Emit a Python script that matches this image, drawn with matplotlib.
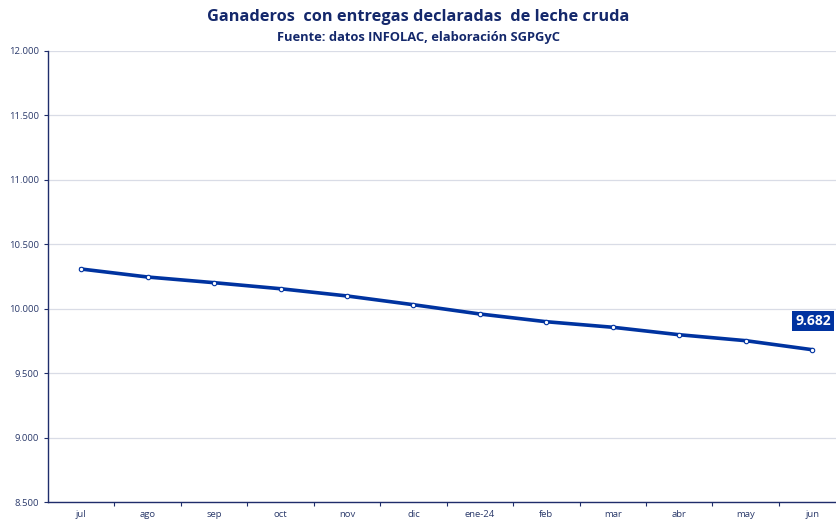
import matplotlib
matplotlib.use("Agg")
import matplotlib.pyplot as plt
from matplotlib.ticker import FuncFormatter

months = ["jul", "ago", "sep", "oct", "nov", "dic", "ene-24", "feb", "mar", "abr", "may", "jun"]
ganaderos = [10308, 10246, 10202, 10155, 10099, 10031, 9959, 9899, 9856, 9798, 9752, 9682]
y_ticks = [8500, 9000, 9500, 10000, 10500, 11000, 11500, 12000]

W, H = 837, 524
fig = plt.figure(figsize=(W / 100, H / 100), dpi=100)
plt.rcParams['font.family'] = ['Open Sans', 'DejaVu Sans']

left = 48 / W
bottom = 1 - 502 / H
top = 1 - 51 / H
ax = fig.add_axes([left, bottom, 1.01 - left, top - bottom])

navy = "#1f2d6b"
line_col = "#0033a0"

x = list(range(len(months)))
ax.plot(x, ganaderos, color=line_col, lw=2.6, marker="o", ms=3.2,
        mfc="white", mec=line_col, mew=0.8, zorder=3)

ax.set_ylim(8500, 12000)
ax.set_xlim(-0.5, 11.5)
ax.set_yticks(y_ticks)
ax.yaxis.set_major_formatter(FuncFormatter(lambda v, p: f"{int(v):,}".replace(",", ".")))
ax.set_xticks(x)
ax.set_xticklabels(months)
ax.set_xticks([i + 0.5 for i in range(len(months))], minor=True)
ax.tick_params(axis="x", which="major", length=0, labelsize=6.8, colors=navy, pad=6)
ax.tick_params(axis="x", which="minor", length=3, color=navy, width=0.8)
ax.tick_params(axis="y", labelsize=6.8, colors=navy, length=3, width=0.8, color=navy)
for lab in ax.get_xticklabels() + ax.get_yticklabels():
    lab.set_color("#2b3a6b")

ax.grid(axis="y", color="#d9dce6", lw=0.9)
ax.set_axisbelow(True)
for s in ["top", "right"]:
    ax.spines[s].set_visible(False)
ax.spines["left"].set_color(navy)
ax.spines["bottom"].set_color(navy)
ax.spines["left"].set_linewidth(1.0)
ax.spines["bottom"].set_linewidth(1.0)

last = ganaderos[-1]
ax.annotate(f"{last:,}".replace(",", "."), xy=(x[-1], last), xytext=(813 / W, 1 - 321 / H),
            textcoords="figure fraction", ha="center", va="center",
            fontsize=10, fontweight="bold", color="white",
            bbox=dict(boxstyle="square,pad=0.25", fc="#0033a0", ec="none"))

fig.text(0.5, 1 - 17 / H, "Ganaderos  con entregas declaradas  de leche cruda",
         ha="center", va="center", fontsize=11.8, fontweight="bold", color="#14286b")
fig.text(0.5, 1 - 37 / H, "Fuente: datos INFOLAC, elaboración SGPGyC",
         ha="center", va="center", fontsize=9.3, fontweight="bold", color="#14286b")

fig.savefig("out.png", dpi=100)
